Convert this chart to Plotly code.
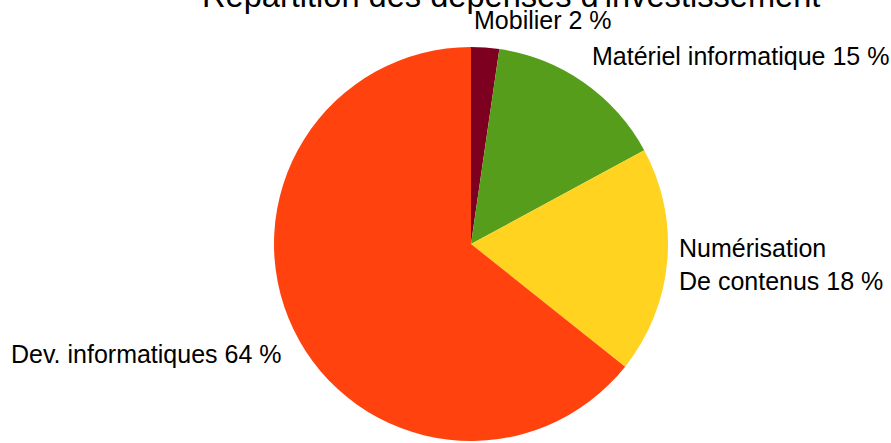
import plotly.graph_objects as go

W, H = 891, 443

title_text = "Répartition des dépenses d'investissement"
categories = ["Mobilier", "Matériel informatique", "Numérisation<br>De contenus", "Dev. informatiques"]
values = [2.3, 14.8, 18.6, 64.3]
pct_labels = ["2 %", "15 %", "18 %", "64 %"]
colors = ["#7E0021", "#579D1C", "#FFD320", "#FF420E"]

# label anchor positions (pixels from top-left), left-aligned
label_pos = [(472, 20), (590, 56.5), (677, 264), (9, 354)]

cx, cy, r = 471, 244, 197

def px_x(x):
    return x / W

def px_y(y):
    return 1 - y / H

fig = go.Figure()
fig.add_trace(go.Pie(
    labels=categories,
    values=values,
    sort=False,
    direction="clockwise",
    rotation=0,
    marker=dict(colors=colors, line=dict(width=0)),
    textinfo="none",
    hoverinfo="skip",
    showlegend=False,
    domain=dict(x=[px_x(cx - r), px_x(cx + r)],
                y=[px_y(cy + r), px_y(cy - r)]),
))

font = dict(family="Liberation Sans, Arial, sans-serif", size=25, color="#000000")
for cat, pct, (px, py) in zip(categories, pct_labels, label_pos):
    fig.add_annotation(
        text=f"{cat} {pct}", xref="paper", yref="paper",
        x=px_x(px), y=px_y(py), xanchor="left", yanchor="middle",
        showarrow=False, font=font, align="left",
    )

fig.add_annotation(
    text=title_text, xref="paper", yref="paper",
    x=px_x(511), y=px_y(-4.5), xanchor="center", yanchor="middle",
    showarrow=False,
    font=dict(family="Liberation Sans, Arial, sans-serif", size=32.6, color="#000000"),
)

fig.update_layout(
    width=W, height=H,
    margin=dict(l=0, r=0, t=0, b=0),
    paper_bgcolor="white", plot_bgcolor="white",
)

fig.write_html("out.html", config={"displayModeBar": False},
               post_script="document.body.style.margin='0';")
